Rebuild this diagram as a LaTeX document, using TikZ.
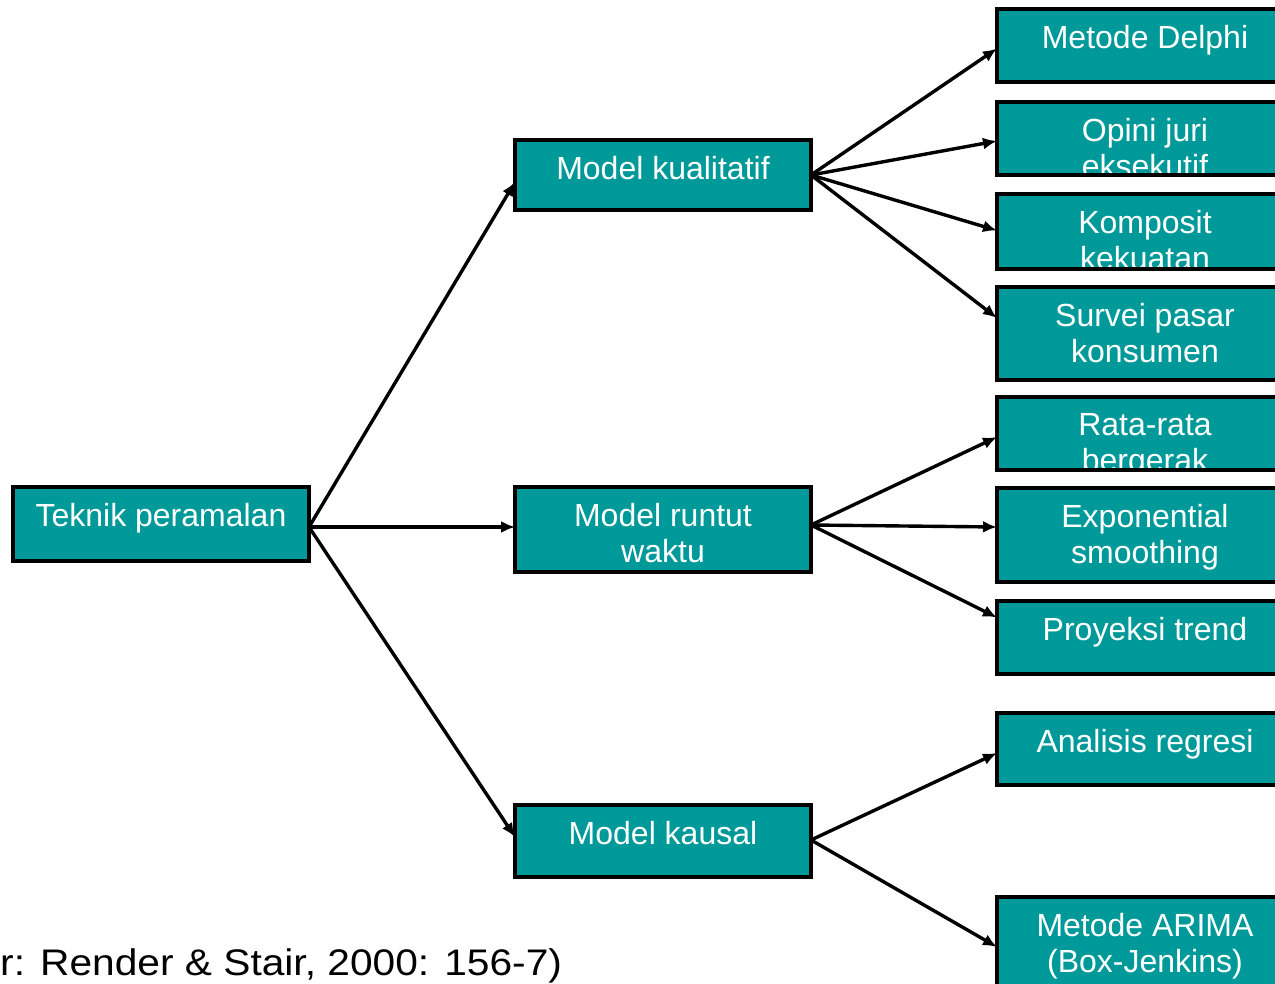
\documentclass[tikz,border=0pt]{standalone}
\usepackage{fontspec}
\setmainfont{Liberation Sans}
\usetikzlibrary{arrows.meta,calc}
\definecolor{tealbox}{RGB}{0,153,153}
\newcommand\mybox[5]{%
  \node[boxfill, minimum height=#4pt] (#1) at (#2,#3) {};
  \node[boxtext] (#1t) at ([yshift=-16pt]#1.north) {#5};
}
\begin{document}
\begin{tikzpicture}[x=1pt,y=-1pt,
  boxfill/.style={rectangle, fill=tealbox, minimum width=296pt, inner sep=0pt, outer sep=0pt},
  boxtext/.style={anchor=north, inner sep=0pt, text=white, align=center, font=\fontsize{32}{36}\selectfont},
  border/.style={draw=black, line width=3.8pt},
  arr/.style={-{Latex[length=14pt,width=12pt]}, line width=3.4pt}]
\clip (0,0) rectangle (1275,984);
\fill[white] (0,0) rectangle (1275,984);
% left and middle column
\mybox{teknik}{161}{524}{74}{Teknik peramalan}
\mybox{kual}{663}{175}{70}{Model kualitatif}
\mybox{runtut}{663}{529.5}{85}{Model runtut\\waktu}
\mybox{kausal}{663}{841}{72}{Model kausal}
% right column
\mybox{delphi}{1145}{45.5}{73}{Metode Delphi}
\mybox{opini}{1145}{138.5}{73}{Opini juri\\eksekutif}
\mybox{komposit}{1145}{231.5}{75}{Komposit\\kekuatan}
\mybox{survei}{1145}{333.5}{93}{Survei pasar\\konsumen}
\mybox{rata}{1145}{433.5}{73}{Rata-rata\\bergerak}
\mybox{expo}{1145}{535}{94}{Exponential\\smoothing}
\mybox{proyeksi}{1145}{637.5}{73}{Proyeksi trend}
\mybox{analisis}{1145}{749}{72}{Analisis regresi}
\mybox{arima}{1145}{945}{96}{Metode ARIMA\\(Box-Jenkins)}
% borders drawn over the text
\foreach \n in {teknik,kual,runtut,kausal,delphi,opini,komposit,survei,rata,expo,proyeksi,analisis,arima}
  \draw[border] (\n.south west) rectangle (\n.north east);
% connectors
\draw[arr] ([yshift=-3pt]teknik.east) -- ([yshift=-7pt]kual.west);
\draw[arr] ([yshift=-3pt]teknik.east) -- ([yshift=2.5pt]runtut.west);
\draw[arr] ([yshift=-3pt]teknik.east) -- ([yshift=4pt]kausal.west);
\draw[arr] (kual.east) -- ([yshift=-3pt]delphi.west);
\draw[arr] (kual.east) -- ([yshift=-2.5pt]opini.west);
\draw[arr] (kual.east) -- ([yshift=1pt]komposit.west);
\draw[arr] (kual.east) -- ([yshift=15.5pt]survei.west);
\draw[arr] ([yshift=4.5pt]runtut.east) -- ([yshift=-3.5pt]rata.west);
\draw[arr] ([yshift=4.5pt]runtut.east) -- ([yshift=8pt]expo.west);
\draw[arr] ([yshift=4.5pt]runtut.east) -- ([yshift=20pt]proyeksi.west);
\draw[arr] ([yshift=1pt]kausal.east) -- ([yshift=-4pt]analisis.west);
\draw[arr] ([yshift=1pt]kausal.east) -- ([yshift=-2pt]arima.west);
% source note
\node[anchor=base west, inner sep=0pt, font=\fontsize{37}{42}\selectfont] (src) at (0,975) {\scalebox{1.1}[1]{r: Render \& Stair, 2000: 156-7)}};
\end{tikzpicture}
\end{document}
